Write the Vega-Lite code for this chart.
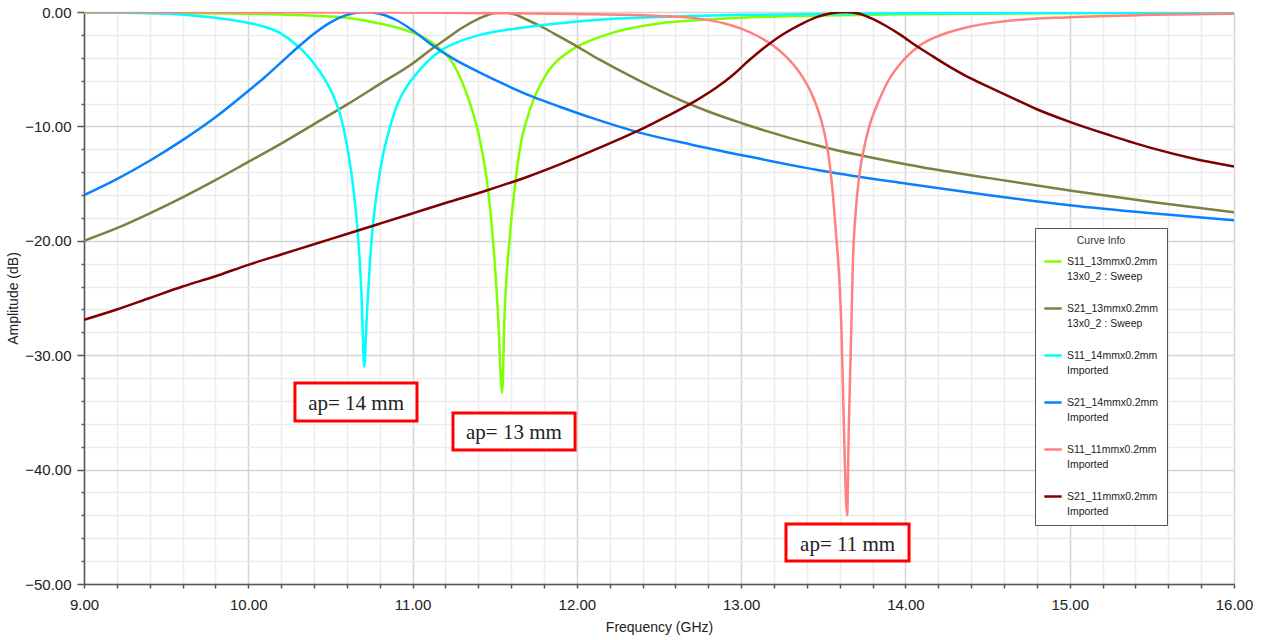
{
  "$schema": "https://vega.github.io/schema/vega-lite/v6.json",
  "width": 1150,
  "height": 572,
  "autosize": {"type": "none"},
  "padding": {"left": 84, "top": 12, "right": 29, "bottom": 56},
  "background": "white",
  "config": {
    "view": {"stroke": null},
    "font": "Liberation Sans",
    "style": {"guide-label": {"lineHeight": 15}}
  },
  "datasets": {
    "curves": [
      {"s": "S11_13mmx0.2mm", "f": 9.0, "db": -0.05},
      {"s": "S11_13mmx0.2mm", "f": 9.5, "db": -0.08},
      {"s": "S11_13mmx0.2mm", "f": 10.0, "db": -0.15},
      {"s": "S11_13mmx0.2mm", "f": 10.2, "db": -0.22},
      {"s": "S11_13mmx0.2mm", "f": 10.4, "db": -0.32},
      {"s": "S11_13mmx0.2mm", "f": 10.6, "db": -0.5},
      {"s": "S11_13mmx0.2mm", "f": 10.8, "db": -1.0},
      {"s": "S11_13mmx0.2mm", "f": 11.0, "db": -1.8},
      {"s": "S11_13mmx0.2mm", "f": 11.14, "db": -2.9},
      {"s": "S11_13mmx0.2mm", "f": 11.25, "db": -4.6},
      {"s": "S11_13mmx0.2mm", "f": 11.34, "db": -7.6},
      {"s": "S11_13mmx0.2mm", "f": 11.41, "db": -11.2},
      {"s": "S11_13mmx0.2mm", "f": 11.46, "db": -15.6},
      {"s": "S11_13mmx0.2mm", "f": 11.49, "db": -20.0},
      {"s": "S11_13mmx0.2mm", "f": 11.52, "db": -26.4},
      {"s": "S11_13mmx0.2mm", "f": 11.545, "db": -33.3},
      {"s": "S11_13mmx0.2mm", "f": 11.56, "db": -26.4},
      {"s": "S11_13mmx0.2mm", "f": 11.59, "db": -20.0},
      {"s": "S11_13mmx0.2mm", "f": 11.62, "db": -15.6},
      {"s": "S11_13mmx0.2mm", "f": 11.66, "db": -11.4},
      {"s": "S11_13mmx0.2mm", "f": 11.7, "db": -9.2},
      {"s": "S11_13mmx0.2mm", "f": 11.735, "db": -7.7},
      {"s": "S11_13mmx0.2mm", "f": 11.78, "db": -6.3},
      {"s": "S11_13mmx0.2mm", "f": 11.82, "db": -5.3},
      {"s": "S11_13mmx0.2mm", "f": 11.87, "db": -4.4},
      {"s": "S11_13mmx0.2mm", "f": 11.93, "db": -3.7},
      {"s": "S11_13mmx0.2mm", "f": 11.98, "db": -3.2},
      {"s": "S11_13mmx0.2mm", "f": 12.1, "db": -2.4},
      {"s": "S11_13mmx0.2mm", "f": 12.22, "db": -1.8},
      {"s": "S11_13mmx0.2mm", "f": 12.5, "db": -1.0},
      {"s": "S11_13mmx0.2mm", "f": 12.75, "db": -0.7},
      {"s": "S11_13mmx0.2mm", "f": 13.0, "db": -0.5},
      {"s": "S11_13mmx0.2mm", "f": 13.5, "db": -0.3},
      {"s": "S11_13mmx0.2mm", "f": 14.0, "db": -0.2},
      {"s": "S11_13mmx0.2mm", "f": 15.0, "db": -0.1},
      {"s": "S11_13mmx0.2mm", "f": 16.0, "db": -0.05},

      {"s": "S21_13mmx0.2mm", "f": 9.0, "db": -20.0},
      {"s": "S21_13mmx0.2mm", "f": 9.2, "db": -18.9},
      {"s": "S21_13mmx0.2mm", "f": 9.4, "db": -17.6},
      {"s": "S21_13mmx0.2mm", "f": 9.6, "db": -16.2},
      {"s": "S21_13mmx0.2mm", "f": 9.8, "db": -14.7},
      {"s": "S21_13mmx0.2mm", "f": 10.0, "db": -13.1},
      {"s": "S21_13mmx0.2mm", "f": 10.2, "db": -11.5},
      {"s": "S21_13mmx0.2mm", "f": 10.4, "db": -9.8},
      {"s": "S21_13mmx0.2mm", "f": 10.6, "db": -8.1},
      {"s": "S21_13mmx0.2mm", "f": 10.8, "db": -6.3},
      {"s": "S21_13mmx0.2mm", "f": 11.0, "db": -4.5},
      {"s": "S21_13mmx0.2mm", "f": 11.1, "db": -3.4},
      {"s": "S21_13mmx0.2mm", "f": 11.2, "db": -2.4},
      {"s": "S21_13mmx0.2mm", "f": 11.3, "db": -1.4},
      {"s": "S21_13mmx0.2mm", "f": 11.4, "db": -0.6},
      {"s": "S21_13mmx0.2mm", "f": 11.48, "db": -0.15},
      {"s": "S21_13mmx0.2mm", "f": 11.55, "db": 0.0},
      {"s": "S21_13mmx0.2mm", "f": 11.62, "db": -0.2},
      {"s": "S21_13mmx0.2mm", "f": 11.7, "db": -0.7},
      {"s": "S21_13mmx0.2mm", "f": 11.8, "db": -1.4},
      {"s": "S21_13mmx0.2mm", "f": 11.9, "db": -2.2},
      {"s": "S21_13mmx0.2mm", "f": 12.0, "db": -3.0},
      {"s": "S21_13mmx0.2mm", "f": 12.13, "db": -4.1},
      {"s": "S21_13mmx0.2mm", "f": 12.26, "db": -5.1},
      {"s": "S21_13mmx0.2mm", "f": 12.45, "db": -6.5},
      {"s": "S21_13mmx0.2mm", "f": 12.63, "db": -7.7},
      {"s": "S21_13mmx0.2mm", "f": 12.8, "db": -8.7},
      {"s": "S21_13mmx0.2mm", "f": 13.0, "db": -9.7},
      {"s": "S21_13mmx0.2mm", "f": 13.5, "db": -11.8},
      {"s": "S21_13mmx0.2mm", "f": 14.0, "db": -13.3},
      {"s": "S21_13mmx0.2mm", "f": 14.5, "db": -14.5},
      {"s": "S21_13mmx0.2mm", "f": 15.0, "db": -15.6},
      {"s": "S21_13mmx0.2mm", "f": 15.5, "db": -16.6},
      {"s": "S21_13mmx0.2mm", "f": 16.0, "db": -17.5},

      {"s": "S11_14mmx0.2mm", "f": 9.0, "db": -0.02},
      {"s": "S11_14mmx0.2mm", "f": 9.5, "db": -0.15},
      {"s": "S11_14mmx0.2mm", "f": 9.7, "db": -0.35},
      {"s": "S11_14mmx0.2mm", "f": 9.9, "db": -0.7},
      {"s": "S11_14mmx0.2mm", "f": 10.05, "db": -1.1},
      {"s": "S11_14mmx0.2mm", "f": 10.19, "db": -1.8},
      {"s": "S11_14mmx0.2mm", "f": 10.31, "db": -3.1},
      {"s": "S11_14mmx0.2mm", "f": 10.4, "db": -4.5},
      {"s": "S11_14mmx0.2mm", "f": 10.47, "db": -6.0},
      {"s": "S11_14mmx0.2mm", "f": 10.52, "db": -7.4},
      {"s": "S11_14mmx0.2mm", "f": 10.56, "db": -9.0},
      {"s": "S11_14mmx0.2mm", "f": 10.6, "db": -11.6},
      {"s": "S11_14mmx0.2mm", "f": 10.64, "db": -15.5},
      {"s": "S11_14mmx0.2mm", "f": 10.67, "db": -20.0},
      {"s": "S11_14mmx0.2mm", "f": 10.69, "db": -25.0},
      {"s": "S11_14mmx0.2mm", "f": 10.706, "db": -31.0},
      {"s": "S11_14mmx0.2mm", "f": 10.72, "db": -27.0},
      {"s": "S11_14mmx0.2mm", "f": 10.75, "db": -20.0},
      {"s": "S11_14mmx0.2mm", "f": 10.78, "db": -16.0},
      {"s": "S11_14mmx0.2mm", "f": 10.82, "db": -12.5},
      {"s": "S11_14mmx0.2mm", "f": 10.86, "db": -10.2},
      {"s": "S11_14mmx0.2mm", "f": 10.91, "db": -8.0},
      {"s": "S11_14mmx0.2mm", "f": 10.97, "db": -6.4},
      {"s": "S11_14mmx0.2mm", "f": 11.03, "db": -5.3},
      {"s": "S11_14mmx0.2mm", "f": 11.1, "db": -4.2},
      {"s": "S11_14mmx0.2mm", "f": 11.17, "db": -3.4},
      {"s": "S11_14mmx0.2mm", "f": 11.3, "db": -2.5},
      {"s": "S11_14mmx0.2mm", "f": 11.41, "db": -2.0},
      {"s": "S11_14mmx0.2mm", "f": 11.6, "db": -1.5},
      {"s": "S11_14mmx0.2mm", "f": 11.82, "db": -1.1},
      {"s": "S11_14mmx0.2mm", "f": 12.22, "db": -0.6},
      {"s": "S11_14mmx0.2mm", "f": 12.6, "db": -0.4},
      {"s": "S11_14mmx0.2mm", "f": 13.0, "db": -0.25},
      {"s": "S11_14mmx0.2mm", "f": 14.0, "db": -0.12},
      {"s": "S11_14mmx0.2mm", "f": 15.0, "db": -0.07},
      {"s": "S11_14mmx0.2mm", "f": 16.0, "db": -0.05},

      {"s": "S21_14mmx0.2mm", "f": 9.0, "db": -16.0},
      {"s": "S21_14mmx0.2mm", "f": 9.2, "db": -14.6},
      {"s": "S21_14mmx0.2mm", "f": 9.4, "db": -13.0},
      {"s": "S21_14mmx0.2mm", "f": 9.6, "db": -11.2},
      {"s": "S21_14mmx0.2mm", "f": 9.8, "db": -9.2},
      {"s": "S21_14mmx0.2mm", "f": 10.0, "db": -6.9},
      {"s": "S21_14mmx0.2mm", "f": 10.1, "db": -5.7},
      {"s": "S21_14mmx0.2mm", "f": 10.2, "db": -4.4},
      {"s": "S21_14mmx0.2mm", "f": 10.3, "db": -3.1},
      {"s": "S21_14mmx0.2mm", "f": 10.4, "db": -1.9},
      {"s": "S21_14mmx0.2mm", "f": 10.5, "db": -0.9},
      {"s": "S21_14mmx0.2mm", "f": 10.6, "db": -0.25},
      {"s": "S21_14mmx0.2mm", "f": 10.71, "db": 0.0},
      {"s": "S21_14mmx0.2mm", "f": 10.8, "db": -0.15},
      {"s": "S21_14mmx0.2mm", "f": 10.9, "db": -0.7},
      {"s": "S21_14mmx0.2mm", "f": 11.0, "db": -1.6},
      {"s": "S21_14mmx0.2mm", "f": 11.12, "db": -2.9},
      {"s": "S21_14mmx0.2mm", "f": 11.25, "db": -4.1},
      {"s": "S21_14mmx0.2mm", "f": 11.41, "db": -5.3},
      {"s": "S21_14mmx0.2mm", "f": 11.57, "db": -6.4},
      {"s": "S21_14mmx0.2mm", "f": 11.73, "db": -7.4},
      {"s": "S21_14mmx0.2mm", "f": 11.9, "db": -8.3},
      {"s": "S21_14mmx0.2mm", "f": 12.1, "db": -9.3},
      {"s": "S21_14mmx0.2mm", "f": 12.37, "db": -10.5},
      {"s": "S21_14mmx0.2mm", "f": 12.7, "db": -11.6},
      {"s": "S21_14mmx0.2mm", "f": 13.0, "db": -12.5},
      {"s": "S21_14mmx0.2mm", "f": 13.5, "db": -13.9},
      {"s": "S21_14mmx0.2mm", "f": 14.0, "db": -15.0},
      {"s": "S21_14mmx0.2mm", "f": 14.5, "db": -16.0},
      {"s": "S21_14mmx0.2mm", "f": 15.0, "db": -16.9},
      {"s": "S21_14mmx0.2mm", "f": 15.5, "db": -17.6},
      {"s": "S21_14mmx0.2mm", "f": 16.0, "db": -18.2},

      {"s": "S11_11mmx0.2mm", "f": 9.0, "db": -0.01},
      {"s": "S11_11mmx0.2mm", "f": 10.0, "db": -0.02},
      {"s": "S11_11mmx0.2mm", "f": 11.0, "db": -0.05},
      {"s": "S11_11mmx0.2mm", "f": 11.5, "db": -0.1},
      {"s": "S11_11mmx0.2mm", "f": 12.0, "db": -0.18},
      {"s": "S11_11mmx0.2mm", "f": 12.5, "db": -0.35},
      {"s": "S11_11mmx0.2mm", "f": 12.75, "db": -0.6},
      {"s": "S11_11mmx0.2mm", "f": 12.9, "db": -1.0},
      {"s": "S11_11mmx0.2mm", "f": 13.0, "db": -1.45},
      {"s": "S11_11mmx0.2mm", "f": 13.1, "db": -2.1},
      {"s": "S11_11mmx0.2mm", "f": 13.2, "db": -3.0},
      {"s": "S11_11mmx0.2mm", "f": 13.3, "db": -4.3},
      {"s": "S11_11mmx0.2mm", "f": 13.37, "db": -5.6},
      {"s": "S11_11mmx0.2mm", "f": 13.44, "db": -7.5},
      {"s": "S11_11mmx0.2mm", "f": 13.49, "db": -9.6},
      {"s": "S11_11mmx0.2mm", "f": 13.52, "db": -11.5},
      {"s": "S11_11mmx0.2mm", "f": 13.54, "db": -13.4},
      {"s": "S11_11mmx0.2mm", "f": 13.56, "db": -16.2},
      {"s": "S11_11mmx0.2mm", "f": 13.58, "db": -19.8},
      {"s": "S11_11mmx0.2mm", "f": 13.6, "db": -24.0},
      {"s": "S11_11mmx0.2mm", "f": 13.61, "db": -27.5},
      {"s": "S11_11mmx0.2mm", "f": 13.625, "db": -36.0},
      {"s": "S11_11mmx0.2mm", "f": 13.645, "db": -44.0},
      {"s": "S11_11mmx0.2mm", "f": 13.655, "db": -36.5},
      {"s": "S11_11mmx0.2mm", "f": 13.67, "db": -28.0},
      {"s": "S11_11mmx0.2mm", "f": 13.68, "db": -22.0},
      {"s": "S11_11mmx0.2mm", "f": 13.7, "db": -17.0},
      {"s": "S11_11mmx0.2mm", "f": 13.72, "db": -14.2},
      {"s": "S11_11mmx0.2mm", "f": 13.745, "db": -12.1},
      {"s": "S11_11mmx0.2mm", "f": 13.78, "db": -10.0},
      {"s": "S11_11mmx0.2mm", "f": 13.84, "db": -7.7},
      {"s": "S11_11mmx0.2mm", "f": 13.9, "db": -5.9},
      {"s": "S11_11mmx0.2mm", "f": 13.97, "db": -4.5},
      {"s": "S11_11mmx0.2mm", "f": 14.09, "db": -2.9},
      {"s": "S11_11mmx0.2mm", "f": 14.2, "db": -2.1},
      {"s": "S11_11mmx0.2mm", "f": 14.37, "db": -1.35},
      {"s": "S11_11mmx0.2mm", "f": 14.58, "db": -0.85},
      {"s": "S11_11mmx0.2mm", "f": 15.0, "db": -0.45},
      {"s": "S11_11mmx0.2mm", "f": 15.5, "db": -0.25},
      {"s": "S11_11mmx0.2mm", "f": 16.0, "db": -0.15},

      {"s": "S21_11mmx0.2mm", "f": 9.0, "db": -26.9},
      {"s": "S21_11mmx0.2mm", "f": 9.2, "db": -26.0},
      {"s": "S21_11mmx0.2mm", "f": 9.4, "db": -25.0},
      {"s": "S21_11mmx0.2mm", "f": 9.6, "db": -24.0},
      {"s": "S21_11mmx0.2mm", "f": 9.8, "db": -23.1},
      {"s": "S21_11mmx0.2mm", "f": 10.0, "db": -22.1},
      {"s": "S21_11mmx0.2mm", "f": 10.2, "db": -21.2},
      {"s": "S21_11mmx0.2mm", "f": 10.4, "db": -20.3},
      {"s": "S21_11mmx0.2mm", "f": 10.6, "db": -19.4},
      {"s": "S21_11mmx0.2mm", "f": 10.8, "db": -18.5},
      {"s": "S21_11mmx0.2mm", "f": 11.0, "db": -17.6},
      {"s": "S21_11mmx0.2mm", "f": 11.2, "db": -16.7},
      {"s": "S21_11mmx0.2mm", "f": 11.45, "db": -15.6},
      {"s": "S21_11mmx0.2mm", "f": 11.7, "db": -14.4},
      {"s": "S21_11mmx0.2mm", "f": 11.9, "db": -13.3},
      {"s": "S21_11mmx0.2mm", "f": 12.1, "db": -12.1},
      {"s": "S21_11mmx0.2mm", "f": 12.37, "db": -10.4},
      {"s": "S21_11mmx0.2mm", "f": 12.55, "db": -9.1},
      {"s": "S21_11mmx0.2mm", "f": 12.73, "db": -7.7},
      {"s": "S21_11mmx0.2mm", "f": 12.85, "db": -6.6},
      {"s": "S21_11mmx0.2mm", "f": 12.95, "db": -5.5},
      {"s": "S21_11mmx0.2mm", "f": 13.05, "db": -4.2},
      {"s": "S21_11mmx0.2mm", "f": 13.16, "db": -2.9},
      {"s": "S21_11mmx0.2mm", "f": 13.26, "db": -1.9},
      {"s": "S21_11mmx0.2mm", "f": 13.36, "db": -1.1},
      {"s": "S21_11mmx0.2mm", "f": 13.46, "db": -0.45},
      {"s": "S21_11mmx0.2mm", "f": 13.55, "db": -0.1},
      {"s": "S21_11mmx0.2mm", "f": 13.64, "db": 0.0},
      {"s": "S21_11mmx0.2mm", "f": 13.72, "db": -0.15},
      {"s": "S21_11mmx0.2mm", "f": 13.8, "db": -0.6},
      {"s": "S21_11mmx0.2mm", "f": 13.88, "db": -1.2},
      {"s": "S21_11mmx0.2mm", "f": 13.97, "db": -2.0},
      {"s": "S21_11mmx0.2mm", "f": 14.07, "db": -3.0},
      {"s": "S21_11mmx0.2mm", "f": 14.17, "db": -3.9},
      {"s": "S21_11mmx0.2mm", "f": 14.27, "db": -4.8},
      {"s": "S21_11mmx0.2mm", "f": 14.37, "db": -5.6},
      {"s": "S21_11mmx0.2mm", "f": 14.5, "db": -6.5},
      {"s": "S21_11mmx0.2mm", "f": 14.65, "db": -7.5},
      {"s": "S21_11mmx0.2mm", "f": 14.8, "db": -8.5},
      {"s": "S21_11mmx0.2mm", "f": 15.0, "db": -9.6},
      {"s": "S21_11mmx0.2mm", "f": 15.25, "db": -10.8},
      {"s": "S21_11mmx0.2mm", "f": 15.5, "db": -11.9},
      {"s": "S21_11mmx0.2mm", "f": 15.75, "db": -12.8},
      {"s": "S21_11mmx0.2mm", "f": 16.0, "db": -13.5}
    ],
    "notes": [
      {"label": "ap= 14 mm", "f": 10.284, "f2": 11.027, "db": -32.43, "db2": -35.75, "fc": 10.656, "dbc": -34.3},
      {"label": "ap= 13 mm", "f": 11.246, "f2": 11.989, "db": -35.05, "db2": -38.29, "fc": 11.617, "dbc": -36.8},
      {"label": "ap= 11 mm", "f": 13.273, "f2": 14.022, "db": -44.76, "db2": -47.99, "fc": 13.648, "dbc": -46.6}
    ]
  },
  "layer": [
    {
      "data": {"name": "curves"},
      "mark": {"type": "line", "strokeWidth": 2.5, "interpolate": "monotone", "clip": true},
      "encoding": {
        "x": {
          "field": "f", "type": "quantitative",
          "scale": {"domain": [9, 16], "nice": false, "zero": false},
          "axis": {
            "title": "Frequency (GHz)",
            "titleFont": "Liberation Sans", "titleFontSize": 14, "titleFontWeight": "normal", "titleColor": "#222", "titlePadding": 8,
            "tickCount": 100,
            "values": [9, 9.2, 9.4, 9.6, 9.8, 10, 10.2, 10.4, 10.6, 10.8, 11, 11.2, 11.4, 11.6, 11.8, 12, 12.2, 12.4, 12.6, 12.8, 13, 13.2, 13.4, 13.6, 13.8, 14, 14.2, 14.4, 14.6, 14.8, 15, 15.2, 15.4, 15.6, 15.8, 16],
            "labelExpr": "abs(datum.value - round(datum.value)) < 0.01 ? format(datum.value, '.2f') : ''",
            "labelFont": "Liberation Sans", "labelFontSize": 15, "labelColor": "#222",
            "labelOverlap": false, "labelFlush": false, "labelPadding": 9,
            "tickSize": 4, "tickColor": "#555", "tickWidth": 1.5,
            "domainColor": "#555", "domainWidth": 1.5,
            "grid": true,
            "gridColor": {"condition": {"test": "abs(datum.value - round(datum.value)) < 0.01", "value": "#d4d4d4"}, "value": "#ececec"},
            "gridWidth": 1.5
          }
        },
        "y": {
          "field": "db", "type": "quantitative",
          "scale": {"domain": [-50, 0], "nice": false, "zero": false},
          "axis": {
            "title": "Amplitude (dB)",
            "titleFont": "Liberation Sans", "titleFontSize": 14, "titleFontWeight": "normal", "titleColor": "#222", "titlePadding": 4,
            "tickCount": 100,
            "values": [-50, -48, -46, -44, -42, -40, -38, -36, -34, -32, -30, -28, -26, -24, -22, -20, -18, -16, -14, -12, -10, -8, -6, -4, -2, 0],
            "labelExpr": "datum.value % 10 === 0 ? format(datum.value, '.2f') : ''",
            "labelFont": "Liberation Sans", "labelFontSize": 15, "labelColor": "#222",
            "labelOverlap": false, "labelFlush": false, "labelPadding": 6,
            "tickSize": {"condition": {"test": "datum.value % 10 === 0", "value": 7}, "value": 3},
            "tickColor": "#555", "tickWidth": 1.5,
            "domainColor": "#555", "domainWidth": 1.5,
            "grid": true,
            "gridColor": {"condition": {"test": "datum.value % 10 === 0", "value": "#d4d4d4"}, "value": "#ececec"},
            "gridWidth": 1.5
          }
        },
        "color": {
          "field": "s", "type": "nominal",
          "scale": {
            "domain": ["S11_13mmx0.2mm", "S21_13mmx0.2mm", "S11_14mmx0.2mm", "S21_14mmx0.2mm", "S11_11mmx0.2mm", "S21_11mmx0.2mm"],
            "range": ["#80ff00", "#7f7f40", "#00ffff", "#0a80ff", "#ff8080", "#800000"]
          },
          "legend": {
            "orient": "none", "legendX": 951, "legendY": 216,
            "title": "Curve Info", "titleAnchor": "middle", "titleFont": "Liberation Sans", "titleFontSize": 10.5, "titleFontWeight": "normal", "titleColor": "#333",
            "labelFont": "Liberation Sans", "labelFontSize": 10.5, "labelColor": "#222", "labelLimit": 200,
            "labelExpr": "[datum.label, indexof(datum.label, '13mm') >= 0 ? '13x0_2 : Sweep' : 'Imported']",
            "symbolType": "stroke", "symbolStrokeWidth": 2.5, "symbolSize": 300,
            "strokeColor": "#555", "fillColor": "white", "padding": 8, "rowPadding": 16
          }
        }
      }
    },
    {
      "data": {"name": "notes"},
      "mark": {"type": "rect", "fill": "white", "stroke": "#ff0000", "strokeWidth": 3},
      "encoding": {
        "x": {"field": "f", "type": "quantitative", "title": "Frequency (GHz)"},
        "x2": {"field": "f2"},
        "y": {"field": "db", "type": "quantitative", "title": "Amplitude (dB)"},
        "y2": {"field": "db2"}
      }
    },
    {
      "data": {"name": "notes"},
      "mark": {"type": "text", "font": "Liberation Serif", "fontSize": 21, "color": "#222", "align": "center", "baseline": "middle"},
      "encoding": {
        "x": {"field": "fc", "type": "quantitative", "title": "Frequency (GHz)"},
        "y": {"field": "dbc", "type": "quantitative", "title": "Amplitude (dB)"},
        "text": {"field": "label"}
      }
    }
  ]
}
